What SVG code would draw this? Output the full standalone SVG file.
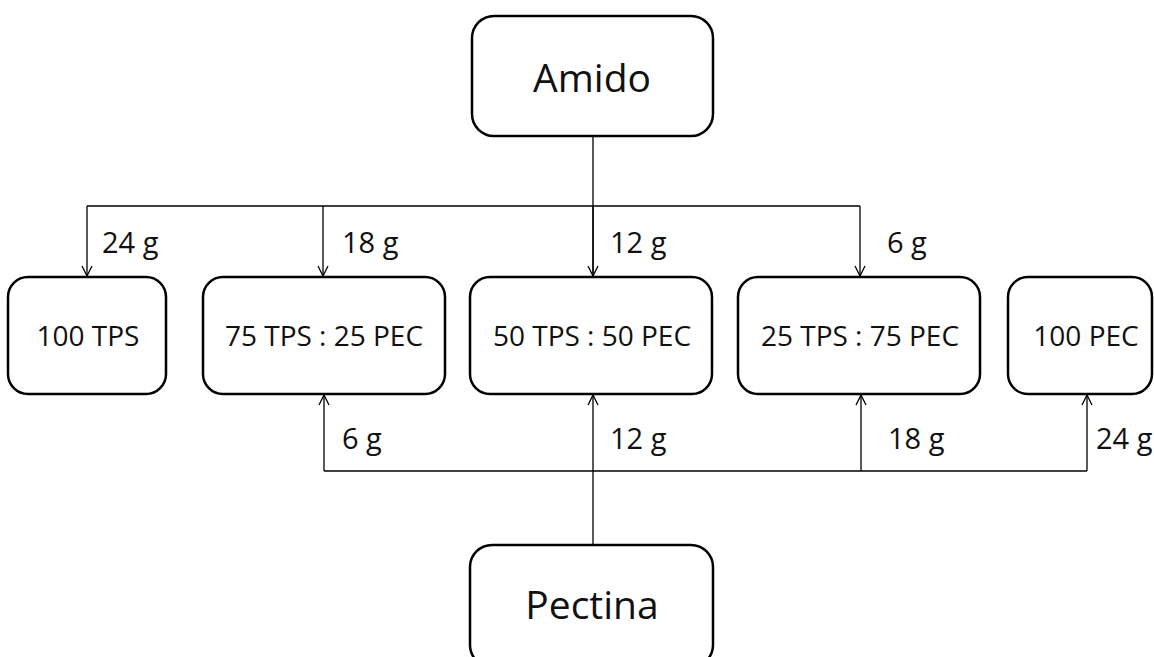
<svg xmlns="http://www.w3.org/2000/svg" width="1154" height="657" viewBox="0 0 1154 657">
  <style>
    .box { fill: #ffffff; stroke: #000000; stroke-width: 2.5; }
    .lbl { font-family: "Open Sans", "Liberation Sans", sans-serif; fill: #111111; }
    .big { font-size: 39px; text-anchor: middle; }
    .mid { font-size: 28px; text-anchor: middle; }
    .qty { font-size: 29px; }
    .wire { fill: none; stroke: #000000; stroke-width: 1.3; }
    .tip { fill: none; stroke: #000000; stroke-width: 1.3; }
  </style>
  <defs>
    <marker id="open-arrow" viewBox="0 0 12 12" refX="11" refY="6" markerWidth="12" markerHeight="12" markerUnits="userSpaceOnUse" orient="auto">
      <path d="M1,1 L11,6 L1,11" class="tip"/>
    </marker>
  </defs>

  <!-- connectors -->
  <g id="connectors">
    <!-- starch feed (top) -->
    <path class="wire" d="M593,136 V277"/>
    <path class="wire" d="M87,206 H860"/>
    <path class="wire" d="M87,206 V276" marker-end="url(#open-arrow)"/>
    <path class="wire" d="M323,206 V276" marker-end="url(#open-arrow)"/>
    <path class="wire" d="M593,206 V276" marker-end="url(#open-arrow)"/>
    <path class="wire" d="M860,206 V276" marker-end="url(#open-arrow)"/>
    <!-- pectin feed (bottom) -->
    <path class="wire" d="M324,471 H1087"/>
    <path class="wire" d="M593,545 V395" marker-end="url(#open-arrow)"/>
    <path class="wire" d="M324,471 V395" marker-end="url(#open-arrow)"/>
    <path class="wire" d="M861,471 V395" marker-end="url(#open-arrow)"/>
    <path class="wire" d="M1087,471 V395" marker-end="url(#open-arrow)"/>
    <!-- quantities -->
    <text class="lbl qty" x="102" y="253">24 g</text>
    <text class="lbl qty" x="342" y="253">18 g</text>
    <text class="lbl qty" x="610" y="253">12 g</text>
    <text class="lbl qty" x="887" y="253">6 g</text>
    <text class="lbl qty" x="342" y="449">6 g</text>
    <text class="lbl qty" x="610" y="449">12 g</text>
    <text class="lbl qty" x="888" y="449">18 g</text>
    <text class="lbl qty" x="1096" y="449">24 g</text>
  </g>

  <g id="amido">
    <rect class="box" x="472" y="16" width="241" height="120" rx="22"/>
    <text class="lbl big" x="592" y="92">Amido</text>
  </g>

  <g id="tps100">
    <rect class="box" x="8" y="277" width="158" height="117" rx="20"/>
    <text class="lbl mid" x="88" y="346">100 TPS</text>
  </g>

  <g id="tps75-pec25">
    <rect class="box" x="203" y="277" width="242" height="117" rx="20"/>
    <text class="lbl mid" x="324" y="346">75 TPS : 25 PEC</text>
  </g>

  <g id="tps50-pec50">
    <rect class="box" x="470" y="277" width="242" height="117" rx="20"/>
    <text class="lbl mid" x="592" y="346">50 TPS : 50 PEC</text>
  </g>

  <g id="tps25-pec75">
    <rect class="box" x="738" y="277" width="242" height="117" rx="20"/>
    <text class="lbl mid" x="860" y="346">25 TPS : 75 PEC</text>
  </g>

  <g id="pec100">
    <rect class="box" x="1008" y="277" width="144" height="117" rx="20"/>
    <text class="lbl mid" x="1086" y="346">100 PEC</text>
  </g>

  <g id="pectina">
    <rect class="box" x="470" y="545" width="243" height="122" rx="22"/>
    <text class="lbl big" x="592" y="619">Pectina</text>
  </g>
</svg>
